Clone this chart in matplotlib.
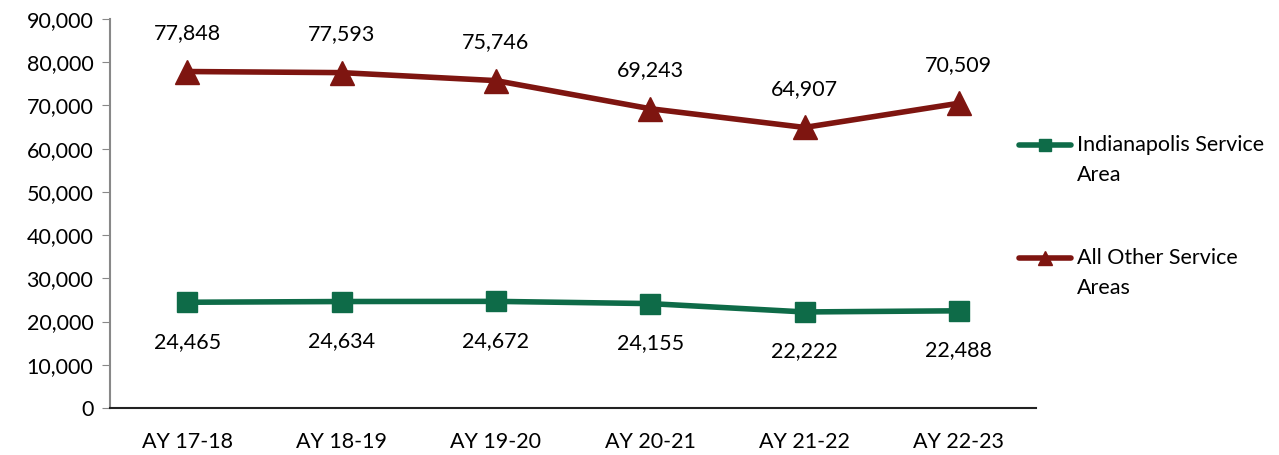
import matplotlib
matplotlib.use("Agg")
import matplotlib.pyplot as plt
from matplotlib.lines import Line2D

categories = ["AY 17-18", "AY 18-19", "AY 19-20", "AY 20-21", "AY 21-22", "AY 22-23"]
indy = [24465, 24634, 24672, 24155, 22222, 22488]
other = [77848, 77593, 75746, 69243, 64907, 70509]
series_names = ["Indianapolis Service\nArea", "All Other Service\nAreas"]
yticks = list(range(0, 90001, 10000))

green = "#0E6B48"
red = "#7E1510"
plt.rcParams['font.family'] = ['Lato', 'DejaVu Sans']
FS = 15.5
W, H = 1279, 455

fig = plt.figure(figsize=(12.79, 4.55), dpi=100)
ax = fig.add_axes([110/W, 1-408/H, (1036-110)/W, (408-19)/H])
x = list(range(len(categories)))
ax.plot(x, indy, color=green, lw=4, marker='s', ms=15, solid_capstyle='round')
ax.plot(x, other, color=red, lw=4, marker='^', ms=17, solid_capstyle='round')
for xi, v in zip(x, indy):
    ax.annotate(f"{v:,}", (xi, v), xytext=(0, -28.5), textcoords='offset points', ha='center', va='center', fontsize=FS)
for xi, v in zip(x, other):
    ax.annotate(f"{v:,}", (xi, v), xytext=(0, 27.5), textcoords='offset points', ha='center', va='center', fontsize=FS)

ax.set_xlim(-0.5, len(categories)-0.5)
ax.set_ylim(0, 90000)
ax.set_yticks(yticks)
ax.set_yticklabels([f"{t:,}" for t in yticks], fontsize=FS)
ax.set_xticks(x)
ax.set_xticklabels(categories, fontsize=FS)
ax.tick_params(axis='x', length=0, pad=17)
ax.tick_params(axis='y', length=6, color='#888888', pad=6)
for s in ['top', 'right']:
    ax.spines[s].set_visible(False)
ax.spines['left'].set_color('#888888')
ax.spines['left'].set_linewidth(1.5)
ax.spines['bottom'].set_color('#222222')
ax.spines['bottom'].set_linewidth(1.5)

# manual legend: handle aligned with first text line
leg_items = [(green, 's', 9, 145), (red, '^', 10, 258)]
for (c, m, ms, yp), name in zip(leg_items, series_names):
    yf = 1 - yp/H
    fig.add_artist(Line2D([1019/W, 1071/W], [yf, yf], transform=fig.transFigure,
                          color=c, lw=4, solid_capstyle='round'))
    fig.add_artist(Line2D([1045/W], [yf], transform=fig.transFigure,
                          color=c, marker=m, ms=ms, lw=0))
    fig.text(1077/W, 1 - (yp - 10)/H, name, fontsize=FS, ha='left', va='top', linespacing=1.6)
fig.savefig("out.png", dpi=100)
